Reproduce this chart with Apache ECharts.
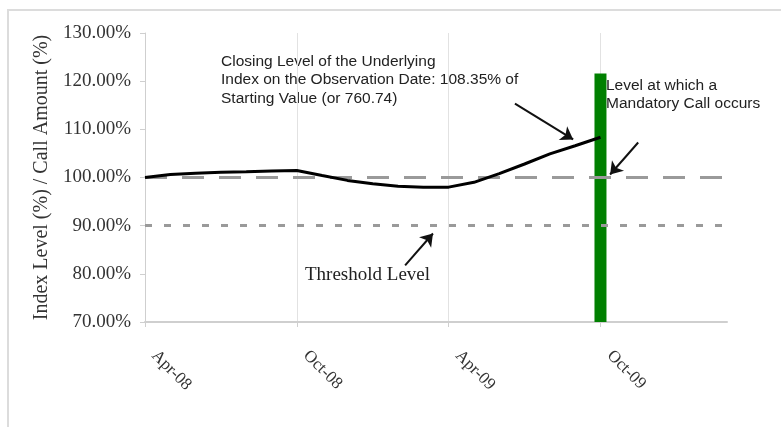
<!DOCTYPE html>
<html>
<head>
<meta charset="utf-8">
<script src="https://cdn.jsdelivr.net/npm/echarts@6/dist/echarts.min.js"></script>
<style>
html,body{margin:0;padding:0;background:#fff;}
#c{width:781px;height:427px;}
</style>
</head>
<body>
<div id="c"></div>
<script>
// ---- data ----
const months = ['Apr-08','May-08','Jun-08','Jul-08','Aug-08','Sep-08','Oct-08','Nov-08','Dec-08','Jan-09','Feb-09','Mar-09',
                'Apr-09','May-09','Jun-09','Jul-09','Aug-09','Sep-09','Oct-09','Nov-09','Dec-09','Jan-10','Feb-10','Mar-10'];
const tickLabels = ['Apr-08','Oct-08','Apr-09','Oct-09'];
const indexLevel = [100,100.6,100.9,101.1,101.2,101.35,101.45,100.4,99.4,98.7,98.2,98.0,98.0,99.0,100.8,102.8,104.9,106.6,108.35];
const callAmount = [null,null,null,null,null,null,null,null,null,null,null,null,null,null,null,null,null,null,121.6];
const callLevel = 100;
const thresholdLevel = 90;
const yMin = 70, yMax = 130, yStep = 10;
// annotation arrows: [fromMonth, fromValue, toMonth, toValue]
const arrowClosing = [14.62, 115.35, 16.92, 107.9];
const arrowCall = [19.49, 107.26, 18.38, 100.62];
const arrowThreshold = [10.28, 81.74, 11.38, 88.38];

const serif = "'Liberation Serif','Times New Roman',serif";
const sans = "'Liberation Sans',Arial,sans-serif";

const chart = echarts.init(document.getElementById('c'));
const isTick = (i) => tickLabels.includes(months[i]);

function arrow(a){
  return [{coord:[a[0],a[1]]},{coord:[a[2],a[3]]}];
}

chart.setOption({
  animation:false,
  grid:{left:145, right:54, top:33, bottom:105},
  xAxis:[{
    type:'category', data:months, boundaryGap:false,
    axisLine:{lineStyle:{color:'#cfcfcf', width:2}},
    axisTick:{show:true, interval:(i)=>isTick(i), length:5, lineStyle:{color:'#cfcfcf'}},
    axisLabel:{interval:(i)=>isTick(i), rotate:-45, margin:22, padding:[0,0,0,13], color:'#333',
      fontFamily:serif, fontSize:17},
    splitLine:{show:true, interval:(i)=>isTick(i) && i>0, lineStyle:{color:'#e2e2e2', width:1}}
  },{
    type:'value', min:0, max:months.length-1, show:false
  }],
  yAxis:{
    type:'value', min:yMin, max:yMax, interval:yStep,
    name:'Index Level (%) / Call Amount (%)', nameLocation:'middle', nameGap:90,
    nameTextStyle:{fontFamily:serif, fontSize:20, color:'#333'},
    axisLine:{show:true, lineStyle:{color:'#cfcfcf', width:1}},
    axisTick:{show:true, length:5, lineStyle:{color:'#cfcfcf'}},
    axisLabel:{formatter:(v)=>v.toFixed(2)+'%', fontFamily:serif, fontSize:19, color:'#333', margin:14},
    splitLine:{show:false}
  },
  series:[
    {type:'bar', data:callAmount, barWidth:12, itemStyle:{color:'#008000'}, z:1},
    {type:'line', xAxisIndex:1, data:[], z:3, silent:true,
      markLine:{symbol:['none','none'], silent:true, label:{show:false},
        data:[
          {yAxis:callLevel, lineStyle:{color:'#9a9a9a', width:3, type:[22,15]}},
          {yAxis:thresholdLevel, lineStyle:{color:'#9a9a9a', width:3, type:[7,12]}}
        ]}},
    {type:'line', data:indexLevel, symbol:'none', lineStyle:{color:'#000', width:3}, z:5},
    {type:'line', xAxisIndex:1, data:[], z:6, silent:true,
      markLine:{symbol:['none','arrow'], symbolSize:12, silent:true, label:{show:false},
        lineStyle:{color:'#111', width:2, type:'solid'},
        data:[arrow(arrowClosing), arrow(arrowCall), arrow(arrowThreshold)]}}
  ],
  graphic:[
    {type:'rect', shape:{x:8, y:10, width:790, height:430}, style:{fill:'none', stroke:'#dcdcdc', lineWidth:2}, z:-1},
    {type:'text', left:221, top:52, style:{text:'Closing Level of the Underlying\nIndex on the Observation Date: 108.35% of\nStarting Value (or 760.74)',
      font:'15.5px '+sans, fill:'#222', lineHeight:18.5}},
    {type:'text', left:606, top:77, style:{text:'Level at which a\nMandatory Call occurs',
      font:'15.5px '+sans, fill:'#222', lineHeight:17.5}},
    {type:'text', left:305, top:266, style:{text:'Threshold Level', font:'19px '+serif, fill:'#222'}}
  ]
});
</script>
</body>
</html>
